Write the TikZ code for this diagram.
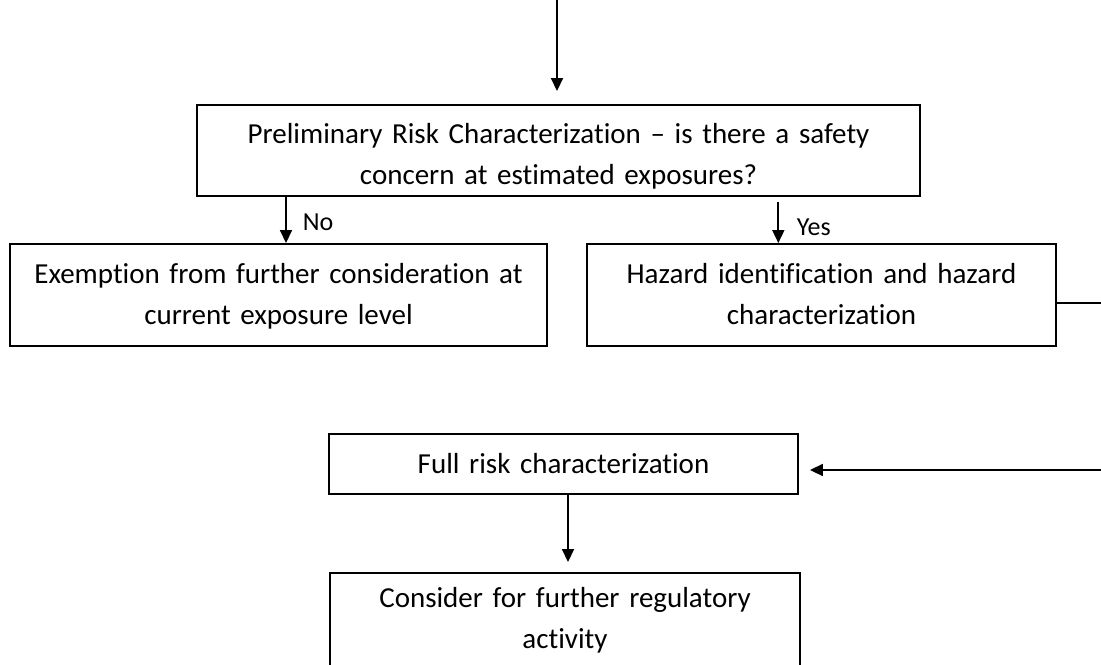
\documentclass[tikz,border=0pt]{standalone}
\usepackage{fontspec}
\setmainfont{Carlito}[Ligatures={NoCommon}]
\usetikzlibrary{arrows.meta}

\begin{document}
\begin{tikzpicture}[x=0.02cm, y=-0.02cm, >={Triangle[length=2.6mm, width=2.4mm]},
	every node/.style={font=\fontsize{16.5pt}{23.3pt}\selectfont},
	box/.style={draw, line width=1.1pt, inner xsep=0pt, inner ysep=0pt, align=center},
	arr/.style={->, line width=1pt},
	tag/.style={font=\fontsize{14.8pt}{17pt}\selectfont, anchor=base west, inner sep=0pt}]
	\clip (0,0) rectangle (1101,665);
	\node[box, text width=14.46cm, text height=0.78cm, text depth=1.04cm] (prelim) at (558.5,150.5) {Preliminary Risk Characterization – is there a safety\\concern at estimated exposures?};
	\node[box, text width=10.74cm, text height=0.786cm, text depth=1.254cm] (exempt) at (278.5,295) {Exemption from further consideration at\\current exposure level};
	\node[box, text width=9.38cm, text height=0.786cm, text depth=1.254cm] (hazard) at (821.5,295) {Hazard identification and hazard\\characterization};
	\node[box, text width=9.38cm, text height=0.786cm, text depth=0.414cm] (full) at (563.5,464) {Full risk characterization};
	\node[box, text width=9.4cm, text height=0.686cm, text depth=1.214cm] (consider) at (565,620.5) {Consider for further regulatory\\activity};
	\coordinate (in) at (557,-10);
	\coordinate (loop) at (1130,470);
	\draw[arr, shorten >=2.6mm] (in) -- (in |- prelim.north);
	\draw[arr] ([xshift=0.15cm]exempt.north |- prelim.south) -- node[tag, pos=0.73, xshift=0.32cm] {No} ([xshift=0.15cm]exempt.north);
	\draw[arr, shorten <=1mm] ([xshift=-0.864cm]hazard.north |- prelim.south) -- node[tag, pos=0.83, xshift=0.354cm] {Yes} ([xshift=-0.864cm]hazard.north);
	\draw[arr, shorten >=2.2mm] ([yshift=-0.16cm]hazard.east) -| (loop) -- (full.east |- loop);
	\draw[arr, shorten >=2mm] ([xshift=0.09cm]full.south) -- ([xshift=0.09cm]full.south |- consider.north);
\end{tikzpicture}
\end{document}
